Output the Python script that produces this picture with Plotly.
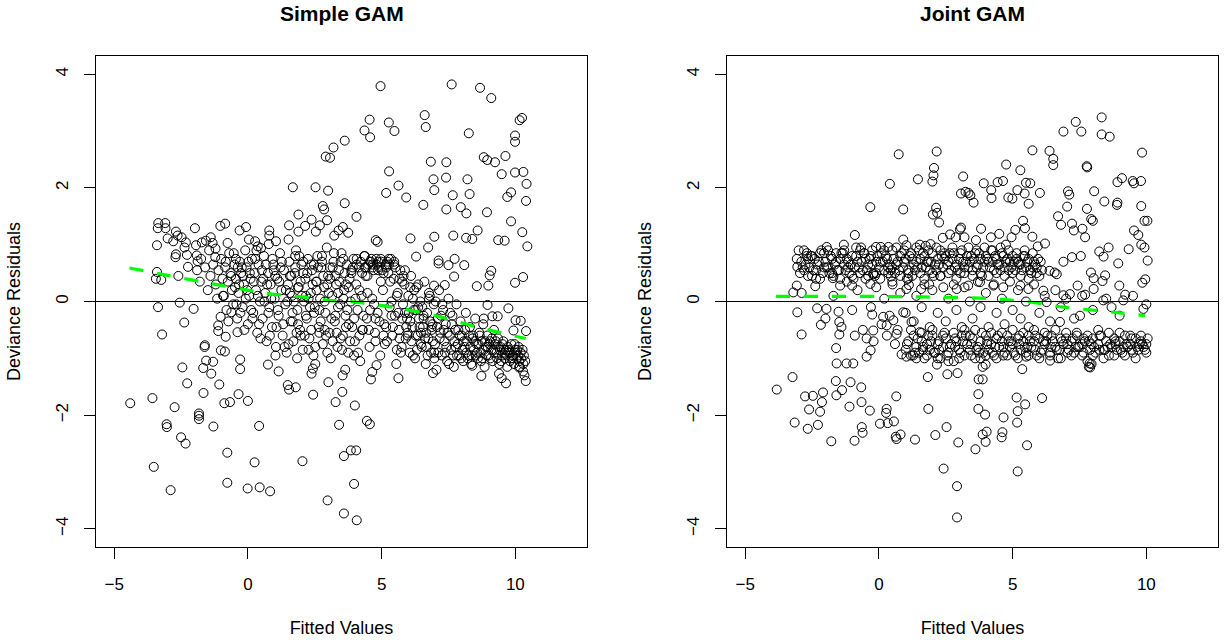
import plotly.graph_objects as go

# ---------------- data: Simple GAM (left) ----------------
simple_sparse = [
    (4.96, 3.79), (7.62, 3.82), (8.68, 3.76), (9.10, 3.58), (4.55, 3.20), (5.27, 3.15),
    (6.61, 3.28), (6.65, 3.07), (4.36, 3.01), (4.57, 2.89), (5.48, 3.00), (10.25, 3.23),
    (10.16, 3.19), (8.26, 2.96), (9.99, 2.92), (9.99, 2.81), (3.62, 2.83), (3.20, 2.71),
    (2.91, 2.55), (3.07, 2.53), (8.82, 2.54), (8.95, 2.49), (9.24, 2.45), (9.63, 2.56),
    (6.84, 2.46), (7.42, 2.45), (5.28, 2.29), (9.49, 2.24), (9.99, 2.27), (10.30, 2.28),
    (10.42, 2.07), (6.94, 2.15), (7.41, 2.18), (8.21, 2.15), (6.97, 1.96), (5.63, 2.04),
    (5.17, 1.91), (5.92, 1.83), (7.66, 1.87), (8.29, 1.89), (9.84, 1.92), (9.70, 1.84),
    (10.40, 1.77), (1.68, 2.01), (2.53, 2.01), (3.00, 1.95), (3.62, 1.73), (2.80, 1.68),
    (2.85, 1.62), (6.56, 1.70), (7.42, 1.62), (7.96, 1.66), (8.17, 1.55), (8.94, 1.57),
    (4.06, 1.49), (1.89, 1.53), (9.84, 1.41), (10.26, 1.22), (8.59, 1.25), (9.36, 1.08),
    (9.60, 1.07), (8.16, 1.12), (8.39, 1.10), (7.68, 1.16), (6.97, 1.14), (6.08, 1.11),
    (6.74, 0.95), (6.29, 0.79), (10.45, 0.97), (7.13, 0.72), (7.13, 0.67), (7.50, 0.64),
    (7.73, 0.75), (8.09, 0.64), (9.10, 0.54), (9.04, 0.46), (10.29, 0.43), (9.99, 0.33),
    (8.99, 0.28), (8.56, 0.27), (7.71, 0.44), (7.36, 0.29), (6.96, 0.28),
    (-3.35, 1.38), (-3.09, 1.38), (-3.37, 1.29), (-3.08, 1.29), (-3.40, 0.99), (-3.40, 0.52),
    (-3.44, 0.40), (-3.24, 0.38), (-2.60, 0.45), (-3.00, 1.11), (-2.79, 1.06), (-2.69, 1.23),
    (-2.63, 1.16), (-2.48, 1.13), (-2.32, 1.04), (-2.37, 0.95), (-2.71, 0.78), (-2.69, 0.83),
    (-2.28, 0.82), (-1.98, 1.29), (-2.24, 0.61), (-1.91, 0.81), (-1.88, 0.71), (-1.94, 0.99),
    (-1.72, 1.04), (-1.57, 1.07), (-1.39, 1.13), (-1.32, 1.03), (-1.21, 0.93), (-1.22, 0.78),
    (-0.76, 1.03), (-1.03, 1.33), (-0.85, 1.37), (-0.31, 1.25), (-0.07, 1.31), (-0.45, 0.75),
    (0.04, 1.09), (0.27, 1.06), (0.37, 0.97), (0.49, 0.94), (0.80, 1.25), (0.80, 1.16),
    (1.05, 1.06), (0.78, 1.01), (1.52, 1.09), (1.54, 1.34), (1.89, 1.23), (2.14, 1.33),
    (2.38, 1.44), (2.54, 1.23), (2.69, 1.34), (2.96, 1.43), (3.55, 1.31), (3.75, 1.21),
    (3.23, 1.16), (3.39, 1.25), (4.78, 1.08), (4.85, 1.05),
    (-3.36, -0.10), (-2.55, -0.02), (-2.03, -0.13), (-3.21, -0.58), (-2.38, -0.37),
    (-1.62, -0.80), (-1.61, -0.77), (-1.02, -0.27), (-1.11, -0.42), (-1.11, -0.52),
    (-0.83, -0.62), (-1.01, -0.86), (-0.86, -0.88), (-0.62, -0.19), (-0.39, -0.54),
    (-0.29, -1.02), (-0.29, -1.19), (-1.56, -1.04), (-1.30, -1.06), (-1.67, -1.17),
    (-1.37, -1.27), (-2.45, -1.16), (-2.27, -1.44), (-1.07, -1.46), (-1.66, -1.61),
    (-4.40, -1.79), (-3.57, -1.70), (-2.74, -1.86), (-0.88, -1.79), (-0.67, -1.77),
    (-0.35, -1.63), (0.00, -1.75), (-1.83, -1.97), (-1.83, -2.01), (-1.83, -2.07),
    (-3.04, -2.16), (-3.03, -2.21), (-1.29, -2.20), (0.42, -2.19), (-2.50, -2.39),
    (-2.33, -2.50), (-0.77, -2.66), (0.25, -2.83), (2.04, -2.81), (-3.52, -2.91),
    (-2.89, -3.32), (-0.77, -3.19), (-0.01, -3.29), (0.44, -3.27), (0.83, -3.34),
    (2.98, -3.50), (3.59, -2.72), (3.85, -2.62), (4.05, -2.62), (3.97, -3.21),
    (3.59, -3.73), (4.07, -3.85), (3.41, -2.17), (4.45, -2.10), (4.56, -2.16),
    (4.00, -1.83), (3.28, -1.77), (3.53, -1.59), (2.44, -1.64), (1.49, -1.47),
    (1.54, -1.55), (1.79, -1.51), (3.01, -1.42), (0.75, -1.11), (1.03, -0.95),
    (1.15, -1.23), (1.84, -1.00), (2.38, -1.27), (2.43, -1.18), (2.52, -1.10),
    (3.54, -1.30), (3.64, -1.20), (4.60, -1.37), (4.65, -1.24), (4.81, -1.12),
    (5.63, -1.35), (6.92, -1.26), (8.73, -1.31), (8.39, -1.13), (9.39, -1.27),
    (9.49, -1.35), (9.65, -1.44), (10.34, -1.30), (10.39, -1.40), (10.29, -1.23),
    (10.14, -1.16), (10.01, -0.33), (10.20, -0.34), (10.40, -0.52), (9.93, -0.51),
    (9.74, -0.12), (8.96, -0.06), (8.82, -0.30), (9.14, -0.26), (9.34, -0.26),
]

simple_band_x = [
    -1.9, -1.8, -1.75, -1.6, -1.5, -1.45, -1.4, -1.3, -1.2, -1.15, -1.1, -1.0, -0.95, -0.9,
    -0.85, -0.8, -0.75, -0.7, -0.65, -0.6, -0.55, -0.5, -0.45, -0.4, -0.35, -0.3, -0.25, -0.2,
    -0.15, -0.1, -0.05, 0.0, 0.05, 0.1, 0.15, 0.2, 0.25, 0.3, 0.35, 0.4, 0.45, 0.5, 0.55, 0.6,
    0.65, 0.7, 0.75, 0.8, 0.85, 0.9, 0.95, 1.0, 1.05, 1.1, 1.15, 1.2, 1.25, 1.3, 1.35, 1.4,
    1.45, 1.5, 1.55, 1.6, 1.65, 1.7, 1.75, 1.8, 1.85, 1.9, 1.95, 2.0, 2.05, 2.1, 2.15, 2.2,
    2.25, 2.3, 2.35, 2.4, 2.45, 2.5, 2.55, 2.6, 2.65, 2.7, 2.75, 2.8, 2.85, 2.9, 2.95, 3.0,
    3.05, 3.1, 3.15, 3.2, 3.25, 3.3, 3.35, 3.4, 3.45, 3.5, 3.55, 3.6, 3.65, 3.7, 3.75, 3.8,
    3.85, 3.9, 3.95, 4.0, 4.05, 4.1, 4.15, 4.2, 4.25, 4.3, 4.35, 4.4, 4.45, 4.5, 4.55, 4.6,
    4.65, 4.7, 4.75, 4.8, 4.85, 4.9, 4.95, 5.0, 5.05, 5.1, 5.15, 5.2, 5.25, 5.3, 5.35, 5.4,
    5.45, 5.5, 5.55, 5.6, 5.65, 5.7, 5.75, 5.8, 5.85, 5.9, 5.95, 6.0, 6.05, 6.1, 6.15, 6.2,
    6.25, 6.3, 6.35, 6.4, 6.45, 6.5, 6.55, 6.6, 6.65, 6.7, 6.75, 6.8, 6.85, 6.9, 6.95, 7.0,
    7.05, 7.1, 7.15, 7.2, 7.25, 7.3, 7.35, 7.4, 7.45, 7.5, 7.55, 7.6, 7.65, 7.7, 7.75, 7.8,
    7.85, 7.9, 7.95, 8.0, 8.05, 8.1, 8.15, 8.2, 8.25, 8.3, 8.35, 8.4, 8.45, 8.5, 8.55, 8.6,
    8.65, 8.7, 8.75, 8.8, 8.85, 8.9, 8.95, 9.0, 9.05, 9.1, 9.15, 9.2, 9.25, 9.3, 9.35, 9.4,
    9.45, 9.5, 9.55, 9.6, 9.65, 9.7, 9.75, 9.8, 9.85, 9.9, 9.95, 10.0, 10.05, 10.1, 10.15,
    10.2, 10.3,
]
simple_band_y = [
    0.55, 0.35, 0.75, 0.6, 0.2, 0.9, 0.45, 0.65, 0.3, 0.05, 0.55, 0.75, 0.4, 0.1,
    0.6, -0.15, 0.35, 0.85, 0.5, 0.2, -0.05, 0.65, 0.4, -0.3, 0.15, 0.7, 0.5, -0.1,
    0.3, 0.9, 0.6, -0.4, 0.1, 0.4, 0.75, -0.2, 0.5, 0.2, -0.55, 0.65, 0.0, 0.35, -0.3, 0.8,
    0.15, -0.7, 0.5, -0.1, 0.3, -0.45, 0.65, 0.05, -0.8, 0.4, -0.25, 0.85, 0.2, -0.6, 0.55, -0.05,
    -0.9, 0.3, 0.7, -0.35, 0.1, -0.7, 0.5, 0.9, -0.15, 0.25, -0.5, 0.65, -0.85, 0.0, 0.4, -0.3,
    0.75, -0.65, 0.15, 0.55, -0.95, -0.1, 0.35, 0.8, -0.45, 0.05, 0.6, -0.75, 0.25, -0.2, 0.95, 0.45,
    -0.55, -1.0, 0.1, 0.7, -0.35, 0.3, -0.8, 0.55, -0.05, 0.85, -0.6, 0.2, -0.25, 0.65, -0.9, 0.4,
    0.0, -0.45, 0.75, -0.7, 0.3, -0.15, 0.6, -1.05, 0.1, -0.5, 0.8, 0.45, -0.3, 0.65, -0.8, 0.7,
    0.05, 0.55, -0.55, 0.75, -0.2, 0.6, -0.95, 0.7, 0.2, -0.4, 0.65, -0.7, 0.5, -0.1, 0.75, -0.6,
    0.4, -0.25, -1.1, 0.15, -0.5, 0.55, -0.8, -0.05, 0.3, -0.65, -0.3, 0.1, -0.9, 0.45, -0.45, -0.15,
    -1.0, 0.25, -0.6, -0.3, 0.0, -0.8, -0.45, 0.35, -1.1, -0.2, -0.65, 0.1, -0.9, -0.4, -0.05, -0.75,
    -1.2, -0.3, 0.2, -0.55, -0.95, -0.15, -0.7, -0.4, -1.05, 0.05, -0.6, -0.85, -0.25, -1.15, -0.5, -0.05,
    -0.75, -0.95, -0.35, -0.6, -1.05, -0.8, -0.2, -0.7, -0.95, -0.45, -1.1, -0.65, -0.85, -0.3, -0.75, -1.0,
    -0.55, -0.9, -0.7, -0.4, -1.15, -0.8, -0.6, -0.95, -0.7, -0.85, -1.05, -0.5, -0.75, -0.9, -0.65, -1.1,
    -0.8, -0.95, -0.7, -1.0, -0.85, -1.15, -0.9, -1.05, -0.75, -0.95, -1.1, -0.85, -1.0, -0.95, -1.05,
    -0.9, -1.1,
]

simple_band2 = [
    (-0.48, 0.25), (-0.38, 0.6), (-0.28, -0.2), (-0.18, 0.45), (-0.08, 0.05), (0.02, 0.7),
    (0.12, -0.15), (0.22, 0.35), (0.32, 0.9), (0.42, -0.4), (0.52, 0.55), (0.62, 0.0),
    (0.72, 0.3), (0.82, -0.6), (0.92, 0.75), (1.02, 0.45), (1.12, -0.15), (1.22, 0.6),
    (1.32, -0.4), (1.42, 0.2), (1.52, -0.75), (1.62, 0.45), (1.72, 0.0), (1.82, -0.55),
    (1.92, 0.8), (2.02, 0.1), (2.12, -0.6), (2.22, 0.5), (2.32, -0.1), (2.42, 0.3),
    (2.52, -0.8), (2.62, 0.6), (2.72, -0.35), (2.82, 0.45), (2.92, -0.6), (3.02, 0.15),
    (3.12, -0.3), (3.22, 0.85), (3.32, -0.55), (3.42, 0.35), (3.52, -0.85), (3.62, 0.5),
    (3.72, -0.15), (3.82, -0.7), (3.92, 0.6), (4.02, 0.05), (4.12, -0.9), (4.22, 0.7),
    (4.32, -0.25), (4.42, 0.6), (4.52, -0.5), (4.62, 0.75), (4.72, -0.05), (4.82, 0.65),
    (4.92, -0.35), (5.02, 0.55), (5.12, -0.75), (5.22, 0.7), (5.32, 0.35), (5.42, -0.45),
    (5.52, 0.6), (5.62, -0.2), (5.72, -0.9), (5.82, 0.45), (5.92, -0.45), (6.02, -0.2),
    (6.12, -0.7), (6.22, 0.2), (6.32, -0.85), (6.42, -0.45), (6.52, -0.1), (6.62, -0.65),
    (6.72, -0.95), (6.82, -0.35), (6.92, -0.7), (7.02, 0.0), (7.12, -0.9), (7.22, -0.25),
    (7.32, -0.5), (7.42, -0.8), (7.52, -1.1), (7.62, -0.4), (7.72, -0.7), (7.82, -0.95),
    (7.92, -0.6), (8.02, -0.85), (8.12, -0.5), (8.22, -1.0), (8.32, -0.8), (8.42, -0.6),
    (8.52, -0.95), (8.62, -0.75), (8.72, -1.05), (8.82, -0.85), (8.92, -0.95), (9.02, -0.75),
    (9.12, -0.65), (9.22, -0.9), (9.32, -1.0), (9.42, -0.85), (9.52, -0.75), (9.62, -0.9),
    (9.72, -0.8), (9.82, -0.9), (9.92, -1.0), (10.02, -0.9), (10.12, -0.8), (10.22, -1.0),
    (10.32, -0.95),
]

simple_band3 = [
    (1.57, 0.15), (1.67, -0.2), (1.77, 0.6), (1.87, -0.4), (1.97, 0.35), (2.07, 0.7),
    (2.17, -0.25), (2.27, 0.05), (2.37, -0.5), (2.47, 0.65), (2.57, 0.2), (2.67, -0.15),
    (2.77, 0.8), (2.87, -0.5), (2.97, 0.3), (3.07, 0.6), (3.17, -0.7), (3.27, 0.45),
    (3.37, -0.1), (3.47, 0.7), (3.57, 0.05), (3.67, -0.45), (3.77, 0.25), (3.87, 0.55),
    (3.97, -0.3), (4.07, 0.75), (4.17, -0.6), (4.27, 0.5), (4.37, 0.6), (4.47, 0.15),
    (4.57, 0.7), (4.67, 0.65), (4.77, -0.3), (4.87, 0.55), (4.97, 0.75), (5.07, -0.6),
    (5.17, 0.6), (5.27, 0.65), (5.37, -0.25), (5.47, 0.7), (5.57, 0.1), (5.67, -0.65),
    (5.77, 0.35), (5.87, -0.2), (5.97, -0.55), (6.07, -0.35), (6.17, 0.05), (6.27, -0.6),
    (6.37, -0.1), (6.47, -0.75), (6.57, -0.3), (6.67, -0.55), (6.77, 0.15), (6.87, -0.5),
    (6.97, -0.9), (7.07, -0.45), (7.17, -0.65), (7.27, -0.05), (7.37, -0.9), (7.47, -0.55),
    (7.57, -0.2), (7.67, -0.95), (7.77, -0.8), (7.87, -0.5), (7.97, -1.0), (8.07, -0.7),
    (8.17, -0.9), (8.27, -0.6), (8.37, -0.95), (8.47, -0.7), (8.57, -0.9), (8.67, -0.6),
    (8.77, -1.0), (8.87, -0.7), (8.97, -0.8), (9.07, -1.0), (9.17, -0.85), (9.27, -0.7),
    (9.37, -0.8), (9.47, -1.05), (9.57, -0.85), (9.67, -0.95), (9.77, -0.85), (9.87, -1.0),
    (9.97, -0.75), (10.07, -0.85), (10.17, -1.15), (10.27, -0.85), (10.37, -1.05),
]

simple_band4 = [
    (-0.93, 0.1), (-0.83, 0.7), (-0.73, -0.35), (-0.63, 0.45), (-0.53, 0.85), (-0.43, -0.05),
    (-0.33, 0.3), (-0.23, 0.6), (-0.13, -0.5), (-0.03, 0.2), (0.07, 0.5), (0.17, -0.3),
    (0.27, 0.75), (0.37, 0.1), (0.47, -0.65), (0.57, 0.4), (0.67, 0.65), (0.77, -0.2),
    (0.87, 0.05), (0.97, 0.55), (1.07, -0.45), (1.17, 0.35), (1.27, 0.7), (1.37, -0.8),
    (1.47, 0.0), (1.57, 0.45), (1.67, -0.35), (1.77, 0.8), (1.87, 0.25), (1.97, -0.6),
    (2.07, 0.5), (2.17, 0.1), (2.27, -0.85), (2.37, 0.65), (2.47, -0.2), (2.57, 0.35),
    (2.67, -0.55), (2.77, 0.7), (2.87, 0.0), (2.97, -0.9), (3.07, 0.4), (3.17, 0.6),
    (3.27, -0.25), (3.37, 0.15), (3.47, -0.65), (3.57, 0.75), (3.67, 0.3), (3.77, -0.4),
    (3.87, 0.5), (3.97, -0.95), (4.07, 0.65), (4.17, 0.2), (4.27, -0.5), (4.37, 0.8),
    (4.47, 0.45), (4.57, -0.15), (4.67, 0.6), (4.77, -0.7), (4.87, 0.7), (4.97, 0.35),
    (5.07, 0.5), (5.17, -0.45), (5.27, 0.75), (5.37, 0.0), (5.47, 0.65), (5.57, -0.85),
    (5.67, 0.4), (5.77, -0.3), (5.87, 0.55), (5.97, -0.6), (6.07, 0.25), (6.17, -0.95),
    (6.27, -0.15), (6.37, 0.3), (6.47, -0.55), (6.57, -0.25), (6.67, -0.8), (6.77, 0.05),
    (6.87, -0.45), (6.97, -1.0),
]

simple_trend_x = [-4.43, -3.0, -1.31, 0.0, 0.92, 2.04, 3.04, 4.03, 5.16, 6.15, 7.27, 8.27, 9.27, 10.39]
simple_trend_y = [0.59, 0.46, 0.31, 0.20, 0.13, 0.08, 0.02, -0.01, -0.08, -0.16, -0.28, -0.41, -0.53, -0.65]

# ---------------- data: Joint GAM (right) ----------------
joint_sparse = [
    (8.33, 3.24), (7.36, 3.16), (6.90, 2.99), (7.57, 2.99), (8.33, 2.94), (8.63, 2.90),
    (5.74, 2.66), (6.38, 2.65), (6.52, 2.51), (6.52, 2.40), (7.77, 2.38), (7.79, 2.36),
    (9.84, 2.62), (0.74, 2.59), (2.16, 2.64), (2.06, 2.35), (2.04, 2.22), (2.00, 2.11),
    (1.46, 2.15), (0.41, 2.07), (3.15, 2.20), (4.76, 2.41), (5.29, 2.31), (3.92, 2.08),
    (4.44, 2.10), (4.64, 2.12), (5.50, 2.09), (5.66, 2.08), (3.07, 1.90), (3.24, 1.93),
    (3.35, 1.91), (3.42, 1.87), (3.54, 1.74), (4.20, 1.96), (4.21, 1.82), (4.84, 1.83),
    (4.99, 1.81), (5.18, 1.96), (5.45, 1.90), (5.60, 1.72), (6.02, 1.91), (8.92, 2.10),
    (9.09, 2.17), (9.49, 2.12), (9.54, 2.08), (9.80, 2.12), (7.07, 1.94), (7.12, 1.88),
    (8.05, 1.94), (8.43, 1.76), (8.92, 1.74), (8.90, 1.70), (9.81, 1.68), (7.04, 1.67),
    (7.78, 1.63), (7.94, 1.45), (8.00, 1.42), (6.70, 1.50), (6.81, 1.35), (7.22, 1.37),
    (7.29, 1.25), (7.61, 1.28), (7.71, 1.13), (9.93, 1.42), (10.04, 1.42), (9.54, 1.25),
    (9.70, 1.17), (9.81, 1.00), (9.93, 0.95), (10.05, 0.72), (9.34, 0.92), (8.95, 0.67),
    (8.59, 0.95), (8.24, 0.88), (8.40, 0.79), (7.55, 0.80), (7.22, 0.78), (6.90, 0.70),
    (7.93, 0.51), (8.03, 0.41), (8.36, 0.36), (8.46, 0.46), (8.03, 0.22), (7.43, 0.28),
    (8.99, 0.28), (9.21, 0.12), (9.85, 0.33), (9.96, 0.39), (6.57, 0.51), (6.38, 0.54),
    (6.65, 0.48), (-0.32, 1.66), (0.91, 1.62), (2.14, 1.65), (2.18, 1.56), (2.02, 1.53),
    (2.25, 1.39), (-0.90, 1.17), (3.82, 1.28), (3.07, 1.30), (5.39, 1.42), (5.46, 1.29),
    (5.10, 1.26), (5.74, 1.14), (6.21, 1.02), (5.94, 0.97), (4.50, 1.19), (4.19, 1.13),
    (0.91, 1.09), (2.39, 1.12), (2.66, 1.18), (2.87, 1.13), (-3.00, 0.90), (-3.07, 0.75),
    (-3.05, 0.61), (-1.95, 0.96), (-1.31, 1.00), (-0.11, 0.96), (0.07, 0.96), (0.36, 0.96),
    (-3.07, 0.28), (-3.20, 0.16), (-2.89, 0.15), (-2.38, 0.27), (-1.45, 0.28), (-0.32, 0.31),
    (-2.69, 0.85), (-0.67, 0.95), (1.03, 0.99), (1.53, 1.00), (1.75, 0.98), (1.93, 1.01),
    (3.03, 1.27), (3.20, 1.13), (3.63, 1.08), (4.75, 1.00), (4.96, 1.13),
    (-1.72, 0.41), (-1.00, 0.28), (-0.21, 0.48), (0.45, 0.44), (0.51, 0.30), (1.03, 0.22),
    (1.12, 0.29), (1.58, 0.22), (1.88, 0.30), (2.41, 0.25), (2.91, 0.22), (3.34, 0.28),
    (3.78, 0.34), (4.28, 0.28), (4.65, 0.25), (5.29, 0.28), (5.59, 0.22), (6.15, 0.19),
    (6.90, 0.11), (7.14, 0.13), (7.71, 0.12),
    (-3.05, -0.19), (-2.89, -0.58), (-2.31, -0.12), (-1.96, -0.13), (-2.17, -0.41),
    (-1.51, -0.18), (-1.48, -0.36), (-1.48, -0.58), (-1.60, -0.82), (-1.58, -1.09),
    (-1.21, -1.09), (-0.96, -1.09), (-3.23, -1.33), (-3.82, -1.55), (-2.76, -1.67),
    (-2.47, -1.66), (-2.09, -1.60), (-1.61, -1.40), (-1.59, -1.65), (-1.38, -1.56),
    (-1.06, -1.42), (-0.66, -1.51), (-2.13, -1.77), (-2.61, -1.90), (-2.20, -1.94),
    (-1.10, -1.85), (-0.65, -1.77), (-0.34, -1.92), (-3.15, -2.13), (-2.66, -2.24),
    (-2.28, -2.17), (-1.78, -2.46), (-0.91, -2.45), (-0.64, -2.21), (-0.61, -2.31),
    (0.04, -2.15), (0.29, -1.89), (0.27, -1.96), (0.33, -2.14), (0.56, -2.11),
    (0.65, -1.67), (0.63, -2.38), (0.81, -2.34), (0.66, -2.42), (1.35, -2.43),
    (1.85, -1.89), (2.11, -2.35), (2.53, -2.21), (1.83, -1.33), (2.42, -2.94),
    (2.97, -2.48), (2.92, -3.25), (2.92, -3.80), (3.61, -2.60), (3.88, -2.34),
    (4.03, -2.29), (3.99, -2.47), (3.72, -1.63), (3.72, -1.89), (3.97, -1.99),
    (3.73, -1.37), (3.88, -1.37), (3.88, -1.15), (3.99, -1.11), (2.94, -1.26),
    (2.56, -1.28), (2.17, -1.11), (4.59, -2.39), (4.62, -2.30), (4.66, -2.04),
    (5.17, -2.13), (5.19, -1.93), (5.15, -1.69), (5.47, -1.81), (6.10, -1.70),
    (5.54, -2.53), (5.19, -2.99), (5.36, -1.19), (5.51, -0.97), (6.40, -1.04),
    (7.88, -1.09), (7.90, -1.16),
    (-0.25, -0.23), (0.16, -0.27), (0.29, -0.42), (0.54, -0.33), (0.66, -0.57),
    (0.91, -0.19), (1.22, -0.36), (1.53, -0.54), (-0.21, -0.51), (-0.46, -0.65),
    (-0.31, -0.86), (-0.46, -0.97), (0.85, -0.93), (1.03, -0.97), (1.28, -0.95),
    (7.52, -0.25), (6.77, -0.36), (8.39, 0.02), (9.14, 0.02), (9.89, -0.13),
    (8.70, -0.10), (6.27, -0.01),
]

joint_upper_x = [
    -2.9, -2.8, -2.7, -2.6, -2.5, -2.4, -2.3, -2.2, -2.1, -2.0, -1.9, -1.8, -1.7, -1.6, -1.5,
    -1.4, -1.3, -1.2, -1.1, -1.0, -0.9, -0.8, -0.7, -0.6, -0.5, -0.4, -0.3, -0.2, -0.1, 0.0,
    0.1, 0.2, 0.3, 0.4, 0.5, 0.6, 0.7, 0.8, 0.9, 1.0, 1.1, 1.2, 1.3, 1.4, 1.5, 1.6, 1.7, 1.8,
    1.9, 2.0, 2.1, 2.2, 2.3, 2.4, 2.5, 2.6, 2.7, 2.8, 2.9, 3.0, 3.1, 3.2, 3.3, 3.4, 3.5, 3.6,
    3.7, 3.8, 3.9, 4.0, 4.1, 4.2, 4.3, 4.4, 4.5, 4.6, 4.7, 4.8, 4.9, 5.0, 5.1, 5.2, 5.3, 5.4,
    5.5, 5.6, 5.7, 5.8, 5.9, 6.0, 6.1,
    -2.85, -2.65, -2.45, -2.25, -2.05, -1.85, -1.65, -1.45, -1.25, -1.05, -0.85, -0.65, -0.45,
    -0.25, -0.05, 0.15, 0.35, 0.55, 0.75, 0.95, 1.15, 1.35, 1.55, 1.75, 1.95, 2.15, 2.35, 2.55,
    2.75, 2.95, 3.15, 3.35, 3.55, 3.75, 3.95, 4.15, 4.35, 4.55, 4.75, 4.95, 5.15, 5.35, 5.55,
    5.75, 5.95,
]
joint_upper_y = [
    0.7, 0.55, 0.8, 0.6, 0.45, 0.75, 0.65, 0.85, 0.5, 0.7, 0.6, 0.8, 0.45, 0.7, 0.55,
    0.85, 0.65, 0.75, 0.5, 0.8, 0.6, 0.7, 0.9, 0.55, 0.75, 0.65, 0.8, 0.5, 0.7, 0.6,
    0.85, 0.55, 0.75, 0.65, 0.9, 0.5, 0.7, 0.8, 0.6, 0.75, 0.55, 0.85, 0.65, 0.7, 0.9, 0.6, 0.8, 0.7,
    0.55, 0.85, 0.65, 0.75, 0.9, 0.6, 0.8, 0.7, 0.55, 0.85, 0.65, 0.75, 0.9, 0.6, 0.8, 0.7, 0.55, 0.85,
    0.65, 0.75, 0.6, 0.8, 0.7, 0.9, 0.55, 0.75, 0.65, 0.85, 0.6, 0.75, 0.7, 0.8, 0.55, 0.7, 0.65, 0.8,
    0.6, 0.75, 0.5, 0.7, 0.6, 0.45, 0.55,
    0.6, 0.75, 0.55, 0.7, 0.85, 0.5, 0.65, 0.75, 0.55, 0.65, 0.8, 0.7, 0.55,
    0.65, 0.8, 0.7, 0.6, 0.75, 0.55, 0.7, 0.8, 0.55, 0.75, 0.6, 0.7, 0.55, 0.8, 0.65,
    0.75, 0.55, 0.7, 0.6, 0.75, 0.85, 0.7, 0.6, 0.8, 0.55, 0.7, 0.6, 0.75, 0.55, 0.7,
    0.6, 0.75,
]

joint_upper3 = [
    (-2.95, 0.5), (-2.8, 0.9), (-2.65, 0.45), (-2.5, 0.8), (-2.35, 0.55), (-2.2, 0.4),
    (-2.05, 0.6), (-1.9, 0.9), (-1.75, 0.5), (-1.6, 0.85), (-1.45, 0.4), (-1.3, 0.9),
    (-1.15, 0.6), (-1.0, 0.45), (-0.85, 0.95), (-0.7, 0.5), (-0.55, 0.85), (-0.4, 0.45),
    (-0.25, 0.9), (-0.1, 0.5), (0.05, 0.4), (0.2, 0.9), (0.35, 0.5), (0.5, 0.6),
    (0.65, 0.95), (0.8, 0.45), (0.95, 0.9), (1.1, 0.5), (1.25, 0.45), (1.4, 0.95),
    (1.55, 0.5), (1.7, 0.4), (1.85, 0.9), (2.0, 0.5), (2.15, 0.95), (2.3, 0.45),
    (2.45, 0.85), (2.6, 0.5), (2.75, 0.95), (2.9, 0.4), (3.05, 0.85), (3.2, 0.5),
    (3.35, 0.95), (3.5, 0.45), (3.65, 0.9), (3.8, 0.5), (3.95, 0.95), (4.1, 0.45),
    (4.25, 0.9), (4.4, 0.5), (4.55, 0.95), (4.7, 0.45), (4.85, 0.9), (5.0, 0.5),
    (5.15, 0.85), (5.3, 0.45), (5.45, 0.9), (5.6, 0.4), (5.75, 0.85), (5.9, 0.5),
    (6.05, 0.7),
]

joint_upper4 = [
    (-2.75, 0.65), (-2.55, 0.8), (-2.35, 0.4), (-2.15, 0.9), (-1.95, 0.6), (-1.75, 0.75),
    (-1.55, 0.55), (-1.35, 0.85), (-1.15, 0.7), (-0.95, 0.4), (-0.75, 0.6), (-0.55, 0.85),
    (-0.35, 0.75), (-0.15, 0.45), (0.05, 0.7), (0.25, 0.8), (0.45, 0.55), (0.65, 0.65),
    (0.85, 0.85), (1.05, 0.4), (1.25, 0.75), (1.45, 0.6), (1.65, 0.85), (1.85, 0.7),
    (2.05, 0.45), (2.25, 0.65), (2.45, 0.75), (2.65, 0.85), (2.85, 0.6), (3.05, 0.5),
    (3.25, 0.7), (3.45, 0.8), (3.65, 0.6), (3.85, 0.45), (4.05, 0.75), (4.25, 0.7),
    (4.45, 0.65), (4.65, 0.8), (4.85, 0.55), (5.05, 0.7), (5.25, 0.65), (5.45, 0.8),
    (5.65, 0.55), (5.85, 0.65),
]

joint_lower_x = [
    1.0, 1.1, 1.2, 1.3, 1.4, 1.5, 1.6, 1.7, 1.8, 1.9, 2.0, 2.1, 2.2, 2.3, 2.4, 2.5, 2.6, 2.7,
    2.8, 2.9, 3.0, 3.1, 3.2, 3.3, 3.4, 3.5, 3.6, 3.7, 3.8, 3.9, 4.0, 4.1, 4.2, 4.3, 4.4, 4.5,
    4.6, 4.7, 4.8, 4.9, 5.0, 5.1, 5.2, 5.3, 5.4, 5.5, 5.6, 5.7, 5.8, 5.9, 6.0, 6.1, 6.2, 6.3,
    6.4, 6.5, 6.6, 6.7, 6.8, 6.9, 7.0, 7.1, 7.2, 7.3, 7.4, 7.5, 7.6, 7.7, 7.8, 7.9, 8.0, 8.1,
    8.2, 8.3, 8.4, 8.5, 8.6, 8.7, 8.8, 8.9, 9.0, 9.1, 9.2, 9.3, 9.4, 9.5, 9.6, 9.7, 9.8, 9.9,
    10.0, 10.05,
    1.05, 1.35, 1.65, 1.95, 2.25, 2.55, 2.85, 3.15, 3.45, 3.75, 4.05, 4.35, 4.65, 4.95, 5.25,
    5.55, 5.85, 6.15, 6.45, 6.75, 7.05, 7.35, 7.65, 7.95, 8.25, 8.55, 8.85, 9.15, 9.45, 9.75,
    9.95, 7.85, 7.95,
]
joint_lower_y = [
    -0.85, -0.7, -0.95, -0.6, -0.8, -0.9, -0.7, -1.0, -0.75, -0.85, -0.6, -0.9, -0.75, -1.0, -0.8, -0.65, -0.9, -0.75,
    -1.05, -0.7, -0.85, -0.6, -0.95, -0.75, -0.85, -0.65, -1.0, -0.8, -0.7, -0.9, -0.6, -0.85, -0.75, -0.95, -0.65, -0.8,
    -0.7, -0.9, -0.6, -0.8, -0.75, -0.95, -0.65, -0.85, -0.7, -0.9, -0.6, -0.8, -0.7, -0.95, -0.65, -0.85, -0.75, -0.6,
    -0.9, -0.7, -0.8, -1.0, -0.65, -0.75, -0.55, -0.85, -0.7, -0.9, -0.6, -0.8, -0.95, -0.7, -1.05, -0.85, -0.65, -0.9,
    -0.75, -0.6, -0.85, -0.7, -0.95, -0.8, -0.65, -0.85, -0.7, -0.9, -0.6, -0.8, -0.75, -0.9, -0.65, -0.85, -0.7, -0.8,
    -0.9, -0.65,
    -0.75, -0.9, -0.8, -0.7, -0.85, -0.95, -0.8, -0.7, -0.95, -0.9, -0.75, -0.8, -0.95, -0.7, -0.75,
    -0.8, -0.85, -0.7, -0.8, -0.85, -0.75, -0.8, -0.65, -0.75, -0.85, -0.8, -0.75, -0.8, -0.85, -0.75,
    -0.85, -1.15, -1.1,
]

joint_lower3 = [
    (1.2, -0.5), (1.4, -1.0), (1.6, -0.55), (1.8, -0.95), (2.0, -0.5), (2.2, -1.0),
    (2.4, -0.6), (2.6, -1.05), (2.8, -0.55), (3.0, -1.0), (3.2, -0.5), (3.4, -0.6),
    (3.6, -0.5), (3.8, -1.0), (4.0, -0.95), (4.2, -0.55), (4.4, -1.0), (4.6, -0.55),
    (4.8, -0.95), (5.0, -0.5), (5.2, -1.0), (5.4, -0.55), (5.6, -0.95), (5.8, -0.5),
    (6.0, -1.0), (6.2, -0.55), (6.4, -0.95), (6.6, -0.5), (6.8, -1.0), (7.0, -0.65),
    (7.2, -0.95), (7.4, -0.55), (7.6, -0.75), (7.8, -0.6), (8.0, -0.95), (8.2, -0.5),
    (8.4, -1.0), (8.6, -0.55), (8.8, -0.95), (9.0, -0.55), (9.2, -0.95), (9.4, -0.6),
    (9.6, -1.0), (9.8, -0.6), (10.0, -0.75),
]

joint_lower4 = [
    (1.45, -0.65), (1.65, -0.85), (1.85, -0.6), (2.05, -0.9), (2.25, -0.7), (2.45, -0.55),
    (2.65, -0.8), (2.85, -0.65), (3.05, -0.9), (3.25, -0.6), (3.45, -0.75), (3.65, -0.85),
    (3.85, -0.55), (4.05, -0.7), (4.25, -0.9), (4.45, -0.6), (4.65, -0.8), (4.85, -0.7),
    (5.05, -0.9), (5.25, -0.6), (5.45, -0.8), (5.65, -0.7), (5.85, -0.6), (6.05, -0.9),
    (6.25, -0.7), (6.45, -0.6), (6.65, -0.85), (6.85, -0.7), (7.05, -0.9), (7.25, -0.65),
    (7.45, -0.8), (7.65, -0.9), (7.85, -0.7), (8.05, -0.8), (8.25, -0.6), (8.45, -0.85),
    (8.65, -0.75), (8.85, -0.7), (9.05, -0.85), (9.25, -0.75), (9.45, -0.65), (9.65, -0.8),
    (9.85, -0.75),
]

joint_middle = [
    (-2.0, -0.3), (-1.7, 0.1), (-1.4, -0.45), (-1.2, 0.35), (-1.0, -0.15), (-0.8, 0.2),
    (-0.6, -0.5), (-0.5, 0.4), (-0.3, -0.1), (-0.1, 0.25), (0.1, -0.4), (0.2, 0.05),
    (0.4, -0.25), (0.5, 0.35), (0.7, -0.5), (0.8, 0.15), (1.0, -0.2), (1.1, 0.4),
    (1.3, -0.35), (1.4, 0.1), (1.6, -0.1), (1.7, 0.3), (1.9, -0.45), (2.0, 0.2),
    (2.2, -0.2), (2.3, 0.45), (2.5, -0.35), (2.6, 0.05), (2.8, 0.3), (2.9, -0.15),
    (3.1, -0.45), (3.2, 0.25), (3.4, 0.0), (3.5, -0.3), (3.7, 0.35), (3.8, -0.1),
    (4.0, 0.15), (4.1, -0.45), (4.3, 0.3), (4.4, -0.2), (4.6, 0.05), (4.7, -0.4),
    (4.9, 0.35), (5.0, -0.15), (5.2, 0.2), (5.3, -0.3), (5.5, 0.0), (5.6, -0.45),
    (5.8, 0.3), (6.0, -0.2), (6.2, 0.1), (6.4, -0.35), (6.6, 0.2), (6.8, -0.1),
    (7.0, 0.05), (7.3, -0.3), (7.6, 0.1), (8.0, -0.15), (8.5, 0.05), (9.0, -0.25),
    (9.5, 0.1), (10.0, -0.05), (-0.9, -0.6), (-0.2, -0.7), (0.6, -0.75), (0.3, -0.6),
]

joint_trend_x = [-3.85, -0.46, 1.66, 3.78, 4.78, 5.84, 6.90, 7.96, 9.01, 9.95]
joint_trend_y = [0.09, 0.09, 0.08, 0.06, 0.03, -0.02, -0.10, -0.15, -0.20, -0.25]

# ---------------- assemble ----------------
simple_pairs = simple_sparse + list(zip(simple_band_x, simple_band_y)) + simple_band2 + simple_band3 + simple_band4
joint_pairs = (joint_sparse + list(zip(joint_upper_x, joint_upper_y)) + joint_upper3 + joint_upper4
               + list(zip(joint_lower_x, joint_lower_y)) + joint_lower3 + joint_lower4 + joint_middle)
simple_x = [p[0] for p in simple_pairs]
simple_y = [p[1] for p in simple_pairs]
joint_x = [p[0] for p in joint_pairs]
joint_y = [p[1] for p in joint_pairs]

FONT = "Liberation Sans, Arial, Helvetica, sans-serif"
marker = dict(symbol="circle-open", size=9, color="black", line=dict(width=1, color="black"))
trend_line = dict(color="#00FF00", width=3.2, dash="14px,14px")

fig = go.Figure()
fig.add_trace(go.Scatter(x=simple_x, y=simple_y, mode="markers", marker=marker,
                         xaxis="x", yaxis="y", showlegend=False, hoverinfo="skip"))
fig.add_trace(go.Scatter(x=simple_trend_x, y=simple_trend_y, mode="lines", line=trend_line,
                         line_shape="spline", xaxis="x", yaxis="y", showlegend=False))
fig.add_trace(go.Scatter(x=joint_x, y=joint_y, mode="markers", marker=marker,
                         xaxis="x2", yaxis="y2", showlegend=False, hoverinfo="skip"))
fig.add_trace(go.Scatter(x=joint_trend_x, y=joint_trend_y, mode="lines", line=trend_line,
                         line_shape="spline", xaxis="x2", yaxis="y2", showlegend=False))

x_ticks = [-5, 0, 5, 10]
y_ticks = [-4, -2, 0, 2, 4]

def xax(domain, anchor):
    return dict(domain=domain, anchor=anchor, range=[-5.68, 12.68], tickvals=x_ticks,
                ticktext=["\u22125", "0", "5", "10"],
                showline=True, mirror=True, linecolor="black", linewidth=1,
                ticks="outside", ticklen=11, tickcolor="black", tickwidth=1,
                showgrid=False, zeroline=False, ticklabelstandoff=11,
                tickfont=dict(family=FONT, size=17, color="black"),
                title=dict(text="Fitted Values", font=dict(family=FONT, size=18, color="black"),
                           standoff=27))

def yax(domain, anchor):
    return dict(domain=domain, anchor=anchor, range=[-4.32, 4.32], tickvals=y_ticks,
                ticktext=["\u22124", "\u22122", "0", "2", "4"], tickangle=-90,
                showline=True, mirror=True, linecolor="black", linewidth=1,
                ticks="outside", ticklen=11, tickcolor="black", tickwidth=1,
                showgrid=False, zeroline=False, ticklabelstandoff=9,
                tickfont=dict(family=FONT, size=17, color="black"),
                title=dict(text="Deviance Residuals", font=dict(family=FONT, size=18, color="black"),
                           standoff=27))

W, H = 1229, 644
xd1 = [96 / W, 587 / W]
xd2 = [727 / W, 1218 / W]
yd = [1 - 547 / H, 1 - 56 / H]

fig.update_layout(
    width=W, height=H, paper_bgcolor="white", plot_bgcolor="white",
    margin=dict(l=0, r=0, t=0, b=0, autoexpand=False), font=dict(family=FONT, color="black"),
    xaxis=xax(xd1, "y"), yaxis=yax(yd, "x"),
    xaxis2=xax(xd2, "y2"), yaxis2=yax(yd, "x2"),
    annotations=[
        dict(text="<b>Simple GAM</b>", x=(xd1[0] + xd1[1]) / 2, y=1.0, xref="paper", yref="paper",
             showarrow=False, xanchor="center", yanchor="top", font=dict(family=FONT, size=21, color="black")),
        dict(text="<b>Joint GAM</b>", x=(xd2[0] + xd2[1]) / 2, y=1.0, xref="paper", yref="paper",
             showarrow=False, xanchor="center", yanchor="top", font=dict(family=FONT, size=21, color="black")),
    ],
    shapes=[
        dict(type="line", xref="x domain", yref="y", x0=0, x1=1, y0=0, y1=0, line=dict(color="black", width=1)),
        dict(type="line", xref="x2 domain", yref="y2", x0=0, x1=1, y0=0, y1=0, line=dict(color="black", width=1)),
    ],
)

fig.write_html("out.html", config={"displayModeBar": False},
               post_script="document.body.style.margin='0px';")
